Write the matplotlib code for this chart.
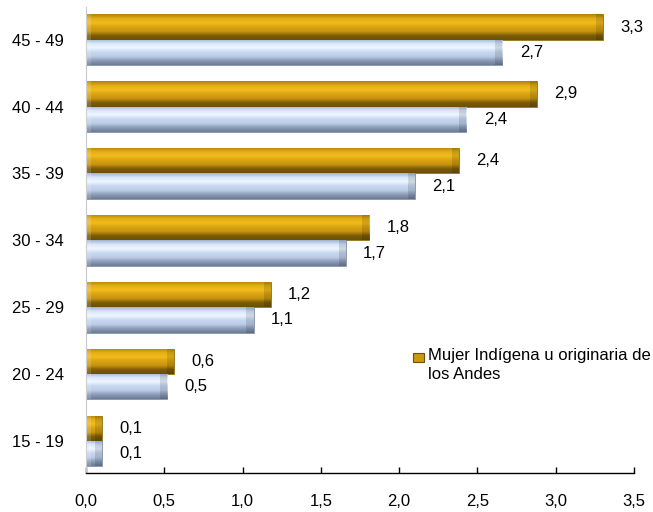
import matplotlib
matplotlib.use("Agg")
import matplotlib.pyplot as plt
import numpy as np
from matplotlib.colors import LinearSegmentedColormap

plt.rcParams["font.family"] = ["Liberation Sans", "DejaVu Sans"]

groups = ["15 - 19", "20 - 24", "25 - 29", "30 - 34", "35 - 39", "40 - 44", "45 - 49"]
andes = [0.10, 0.56, 1.18, 1.81, 2.38, 2.88, 3.30]
other = [0.10, 0.52, 1.07, 1.66, 2.10, 2.43, 2.66]
x_ticks = [0.0, 0.5, 1.0, 1.5, 2.0, 2.5, 3.0, 3.5]
legend_label = "Mujer Indígena u originaria de\nlos Andes"

# bottom -> top of each bar
GOLD = ["#6a5008", "#7d5d08", "#c99510", "#d9a312", "#f2bc1c", "#e4ae16", "#b0820a"]
BLUE = ["#6d7b94", "#8d9db8", "#bccde8", "#c6d7f0", "#eef6ff", "#dae8fa", "#a0b4d2"]


def shade(ax, bars, colors):
    cmap = LinearSegmentedColormap.from_list("bevel", colors)
    grad = np.linspace(0, 1, 64).reshape(-1, 1)
    for b in bars:
        x0, y0 = b.get_x(), b.get_y()
        w, h = b.get_width(), b.get_height()
        im = ax.imshow(grad, cmap=cmap, aspect="auto", origin="lower",
                       extent=(x0, x0 + w, y0, y0 + h), zorder=2,
                       interpolation="bilinear")
        im.set_clip_path(b)
        # bevelled ends
        ax.add_patch(plt.Rectangle((x0 + w - 0.045, y0), 0.045, h,
                                   color="black", alpha=0.12, lw=0, zorder=3,
                                   clip_path=b))
        ax.add_patch(plt.Rectangle((x0, y0), 0.03, h,
                                   color="white", alpha=0.15, lw=0, zorder=3,
                                   clip_path=b))


fig = plt.figure(figsize=(6.53, 5.12), dpi=100)
ax = fig.add_axes([86 / 653, 39 / 512, 548 / 653, 466 / 512])

y = np.arange(len(groups))
h = 0.38
gold_bars = ax.barh(y + 0.19, andes, height=h, color=GOLD[3], lw=0.5,
                    edgecolor="#7a5a00", zorder=1)
blue_bars = ax.barh(y - 0.19, other, height=h, color=BLUE[3], lw=0.5,
                    edgecolor="#6d7b94", zorder=1)
shade(ax, gold_bars, GOLD)
shade(ax, blue_bars, BLUE)

for yy, v in zip(y + 0.19, andes):
    ax.text(v + 0.11, yy, f"{v:.1f}".replace(".", ","), va="center",
            ha="left", fontsize=12)
for yy, v in zip(y - 0.19, other):
    ax.text(v + 0.11, yy, f"{v:.1f}".replace(".", ","), va="center",
            ha="left", fontsize=12)

ax.set_xlim(0, 3.5)
ax.set_ylim(-0.48, 6.49)
ax.set_xticks(x_ticks)
ax.set_xticklabels([f"{t:.1f}".replace(".", ",") for t in x_ticks], fontsize=12)
ax.set_yticks(y)
ax.set_yticklabels(groups, fontsize=12)
ax.tick_params(axis="x", direction="in", length=4, pad=15, width=1)
ax.tick_params(axis="y", length=0, pad=16)
for s in ["top", "right"]:
    ax.spines[s].set_visible(False)
ax.spines["left"].set_color("#c8c8c8")
ax.spines["bottom"].set_linewidth(1)

# legend (gold series only, as in the source)
ax.add_patch(plt.Rectangle((0.597, 0.238), 0.020, 0.0193, transform=ax.transAxes,
                           facecolor="#c99a0e", edgecolor="#6e5200", lw=0.8,
                           clip_on=False))
ax.text(0.624, 0.268, legend_label, transform=ax.transAxes, va="top",
        ha="left", fontsize=12, linespacing=1.3)

fig.savefig("out.png", dpi=100)
